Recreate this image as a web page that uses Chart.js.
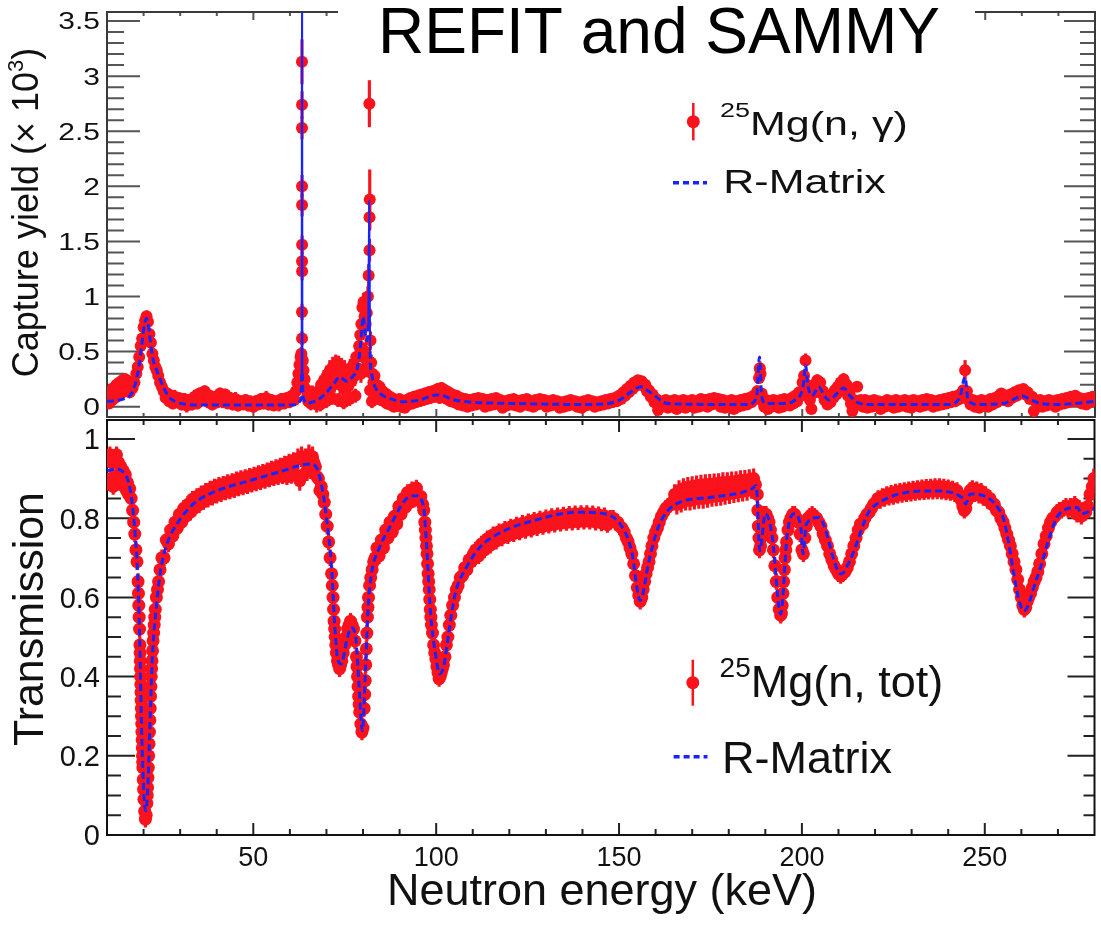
<!DOCTYPE html>
<html>
<head>
<meta charset="utf-8">
<title>25Mg capture yield and transmission</title>
<script src="https://cdn.jsdelivr.net/npm/chart.js@4.4.1/dist/chart.umd.min.js"></script>
<style>
  html, body { margin: 0; padding: 0; background: #ffffff; }
  #figure { position: relative; width: 1101px; height: 926px; overflow: hidden; background: #ffffff; }
  #figure canvas { position: absolute; left: 0; top: 0; }
</style>
</head>
<body>
<div id="figure">
  <canvas id="transCanvas" width="1101" height="926"></canvas>
  <canvas id="yieldCanvas" width="1101" height="926"></canvas>
</div>
<script>
// ---------- axis ticks ----------
const energyMajorTicks = [50, 100, 150, 200, 250];
const energyTickLabels = ['50', '100', '150', '200', '250'];
const energyMinorTicks = [20, 30, 40, 60, 70, 80, 90, 110, 120, 130, 140, 160, 170, 180, 190, 210, 220, 230, 240, 260, 270];
const yieldMajorTicks = [0, 0.5, 1, 1.5, 2, 2.5, 3, 3.5];
const yieldTickLabels = ['0', '0.5', '1', '1.5', '2', '2.5', '3', '3.5'];
const yieldMinorTicks = [0.1, 0.2, 0.3, 0.4, 0.6, 0.7, 0.8, 0.9, 1.1, 1.2, 1.3, 1.4, 1.6, 1.7, 1.8, 1.9,
                         2.1, 2.2, 2.3, 2.4, 2.6, 2.7, 2.8, 2.9, 3.1, 3.2, 3.3, 3.4];
const transMajorTicks = [0, 0.2, 0.4, 0.6, 0.8, 1];
const transTickLabels = ['0', '0.2', '0.4', '0.6', '0.8', '1'];
const transMinorTicks = [0.05, 0.1, 0.15, 0.25, 0.3, 0.35, 0.45, 0.5, 0.55, 0.65, 0.7, 0.75, 0.85, 0.9, 0.95];

// ---------- 25Mg(n, gamma) capture yield (x 10^3) ----------
const yieldEnergy = [
  10.2,10.6,11.0,11.4,11.8,12.2,12.6,13.0,13.4,13.8,
  14.2,14.6,15.0,15.4,15.8,16.2,16.6,17.0,17.5,18.0,
  18.4,18.8,19.2,19.6,20.0,20.4,20.8,21.2,21.6,22.0,
  22.4,22.8,23.2,23.6,24.0,24.5,25.0,25.5,26.0,26.5,
  27.0,27.5,28.0,28.5,29.0,29.7,30.4,31.1,31.8,32.5,
  33.2,33.9,34.6,35.3,36.0,36.7,37.4,38.1,38.8,39.5,
  40.2,40.9,41.6,42.3,43.0,43.7,44.4,45.1,45.8,46.5,
  47.2,47.9,48.6,49.3,50.0,50.7,51.4,52.1,52.8,53.5,
  54.2,54.9,55.6,56.3,57.0,57.7,58.4,59.1,59.8,60.5,
  61.2,61.6,62.0,62.3,62.6,62.9,63.1,63.28,63.29,63.30,
  63.30,63.31,63.31,63.32,63.32,63.29,63.30,63.5,63.7,64.0,
  64.3,64.7,65.0,65.3,65.7,66.1,66.5,66.9,67.3,67.7,
  68.1,68.5,68.9,69.3,69.7,70.1,70.5,70.9,71.3,71.7,
  72.1,72.5,72.9,73.3,73.7,74.1,74.5,74.9,75.3,75.7,
  76.1,76.5,76.9,77.3,77.7,78.1,78.5,68.3,69.9,71.5,
  73.1,74.7,76.3,77.9,78.9,79.2,79.5,79.8,80.1,80.4,
  80.7,81.0,81.3,81.5,81.75,81.75,81.8,81.7,82.0,82.2,
  82.5,82.8,83.1,83.4,79.4,80.0,80.6,81.2,81.9,82.4,
  83.0,83.7,84.1,84.5,84.9,85.3,85.7,86.1,86.5,86.9,
  87.4,87.9,88.4,88.9,89.4,89.9,90.4,90.9,91.4,91.9,
  92.4,92.9,93.4,93.9,94.4,94.9,95.4,95.9,96.4,96.9,
  97.4,97.9,98.4,98.9,99.4,99.9,100.4,100.9,101.4,101.9,
  102.4,102.9,103.4,103.9,104.4,104.9,105.5,106.1,106.7,107.3,
  107.9,108.5,109.1,109.7,110.3,110.9,111.5,112.1,112.7,113.3,
  113.9,114.5,115.1,115.7,116.3,116.9,117.5,118.1,118.7,119.3,
  119.9,120.5,121.1,121.7,122.3,122.9,123.5,124.1,124.7,125.3,
  125.9,126.5,127.1,127.7,128.3,128.9,129.5,130.1,130.7,131.3,
  131.9,132.5,133.1,133.7,134.3,134.9,135.5,136.1,136.7,137.3,
  137.9,138.5,139.1,139.7,140.3,140.9,141.5,142.1,142.7,143.3,
  143.9,144.5,145.1,145.7,146.3,146.9,147.5,148.1,148.7,149.3,
  149.9,150.5,151.1,151.6,152.1,152.6,153.1,153.6,154.1,154.6,
  155.1,155.6,156.1,156.6,157.1,157.6,158.1,158.6,159.1,159.6,
  160.1,160.6,161.1,161.6,162.1,162.7,163.3,163.9,164.5,165.1,
  165.7,166.3,166.9,167.5,168.1,168.7,169.3,169.9,170.5,171.1,
  171.7,172.3,172.9,173.5,174.1,174.7,175.3,175.9,176.5,177.1,
  177.7,178.3,178.9,179.5,180.1,180.7,181.3,181.9,182.5,183.1,
  183.7,184.3,184.9,185.5,186.1,186.7,187.2,187.7,188.2,188.4,
  188.6,188.9,189.2,189.6,190.1,190.6,191.1,191.6,192.1,192.6,
  193.1,193.6,194.1,194.6,195.1,195.6,196.1,196.6,197.1,197.6,
  198.1,198.6,199.1,199.6,200.1,200.5,200.9,201.3,201.7,202.1,
  202.5,202.9,203.3,203.7,204.1,204.5,204.9,205.3,205.7,206.1,
  206.5,206.9,207.3,207.7,208.1,208.5,208.9,209.3,209.7,210.1,
  210.5,210.9,211.3,211.7,212.1,212.5,212.9,213.3,213.7,214.1,
  214.5,215.0,215.5,216.0,216.6,217.2,217.8,218.4,219.0,219.6,
  220.2,220.8,221.4,222.0,222.6,223.2,223.8,224.4,225.0,225.6,
  226.2,226.8,227.4,228.0,228.6,229.2,229.8,230.4,231.0,231.6,
  232.2,232.8,233.4,234.0,234.6,235.2,235.8,236.4,237.0,237.6,
  238.2,238.8,239.4,240.0,240.6,241.2,241.8,242.4,243.0,243.5,
  244.0,244.5,245.0,245.5,246.0,246.6,247.2,247.8,248.4,249.0,
  249.6,250.2,250.8,251.4,252.0,252.6,253.2,253.8,254.4,255.0,
  255.6,256.2,256.8,257.4,258.0,258.6,259.2,259.8,260.4,261.0,
  261.6,262.2,262.8,263.3,263.8,264.4,265.0,265.6,266.2,266.8,
  267.4,268.0,268.6,269.2,269.8,270.4,271.0,271.6,272.2,272.8,
  273.4,274.0,274.6,275.2,275.8,276.4,277.0,277.6,278.2,278.8,
  279.4,280.0
];
const yieldValue = [
  0.10,0.03,0.14,0.06,0.17,0.08,0.20,0.10,0.22,0.12,
  0.24,0.14,0.25,0.16,0.23,0.13,0.21,0.17,0.22,0.30,
  0.36,0.45,0.55,0.62,0.72,0.78,0.82,0.77,0.66,0.58,
  0.48,0.42,0.36,0.33,0.28,0.22,0.18,0.14,0.08,0.12,
  0.05,0.10,0.03,0.09,0.04,0.08,0.02,0.07,0.01,0.06,
  0.02,0.09,0.03,0.12,0.06,0.14,0.05,0.10,0.02,0.09,
  0.04,0.12,0.05,0.11,0.03,0.08,0.02,0.07,0.01,0.05,
  0.02,0.06,0.01,0.04,0.00,0.05,0.02,0.07,0.03,0.08,
  0.02,0.06,0.01,0.05,0.02,0.07,0.03,0.08,0.04,0.10,
  0.06,0.14,0.22,0.30,0.38,0.45,0.48,3.13,2.53,2.74,
  2.00,1.83,1.32,1.47,1.23,0.86,0.62,0.42,0.33,0.25,
  0.16,0.09,0.05,0.10,0.03,0.12,0.05,0.10,0.02,0.14,
  0.08,0.20,0.10,0.24,0.13,0.28,0.16,0.33,0.18,0.36,
  0.22,0.38,0.25,0.37,0.20,0.35,0.18,0.33,0.16,0.30,
  0.20,0.34,0.24,0.38,0.28,0.45,0.35,0.02,0.05,0.08,
  0.06,0.04,0.07,0.10,0.55,0.65,0.75,0.90,0.95,0.82,
  0.75,0.85,1.00,1.19,1.42,1.72,1.88,2.75,0.60,0.40,
  0.30,0.22,0.28,0.15,0.30,0.45,0.50,0.35,0.15,0.05,
  0.08,0.20,0.10,0.18,0.06,0.14,0.05,0.12,0.03,0.10,
  0.02,0.08,0.00,0.06,0.01,0.07,0.00,0.05,-0.01,0.06,
  0.02,0.08,0.03,0.09,0.04,0.10,0.05,0.11,0.06,0.12,
  0.07,0.13,0.08,0.14,0.09,0.15,0.16,0.08,0.17,0.09,
  0.15,0.07,0.13,0.05,0.11,0.04,0.10,0.02,0.08,0.01,
  0.07,0.00,0.06,0.01,0.07,0.02,0.08,0.03,0.07,0.00,
  0.06,0.01,0.07,0.02,0.08,0.03,0.06,-0.01,0.05,0.01,
  0.06,0.02,0.07,0.01,0.05,0.00,0.06,0.02,0.07,0.01,
  0.05,0.00,0.06,0.02,0.07,0.03,0.06,0.00,0.05,0.01,
  0.06,0.02,0.05,-0.01,0.04,0.00,0.05,0.01,0.06,0.02,
  0.05,0.00,0.04,-0.01,0.05,0.01,0.06,0.02,0.05,0.00,
  0.04,0.01,0.05,0.02,0.06,0.03,0.07,0.04,0.08,0.05,
  0.10,0.07,0.13,0.10,0.16,0.13,0.19,0.16,0.22,0.19,
  0.24,0.21,0.23,0.19,0.20,0.14,0.15,0.09,0.11,0.04,
  0.07,-0.03,0.05,0.00,0.04,0.06,-0.01,0.05,0.00,0.06,
  -0.02,0.05,0.00,0.06,-0.01,0.05,0.01,0.06,-0.01,0.05,
  0.00,0.07,0.01,0.06,0.00,0.07,0.02,0.08,0.03,0.07,
  0.00,0.06,-0.01,0.05,0.00,0.06,-0.02,0.05,0.00,0.06,
  0.01,0.07,0.02,0.08,0.04,0.10,0.07,0.14,0.26,0.35,
  0.30,0.12,0.05,0.00,0.06,-0.02,0.05,0.00,0.06,0.01,
  0.05,-0.01,0.06,0.00,0.07,0.02,0.06,0.01,0.08,0.03,
  0.10,0.05,0.13,0.10,0.22,0.28,0.42,0.20,0.14,0.06,
  -0.02,0.12,0.20,0.15,0.24,0.18,0.22,0.12,0.14,0.06,
  0.10,0.02,0.08,0.04,0.10,0.08,0.15,0.11,0.18,0.14,
  0.22,0.16,0.25,0.15,0.20,0.10,0.12,0.03,-0.04,0.06,
  0.02,0.18,0.04,0.06,0.00,0.06,-0.01,0.05,0.00,0.06,
  0.01,0.05,-0.02,0.04,0.00,0.06,0.01,0.05,-0.01,0.06,
  0.00,0.05,0.01,0.06,0.00,0.05,-0.01,0.06,0.01,0.05,
  0.00,0.06,0.01,0.07,0.02,0.06,0.00,0.05,0.01,0.06,
  0.02,0.07,0.03,0.08,0.04,0.09,0.05,0.10,0.07,0.12,
  0.15,0.33,0.14,0.06,0.02,0.06,0.00,0.05,-0.01,0.06,
  0.01,0.05,0.00,0.07,0.02,0.08,0.04,0.10,0.12,0.06,
  0.10,0.05,0.11,0.08,0.13,0.10,0.15,0.12,0.16,0.11,
  0.13,0.07,0.09,-0.04,0.05,0.01,0.06,0.00,0.05,0.01,
  0.06,0.02,0.05,0.00,0.06,0.02,0.07,0.03,0.08,0.04,
  0.09,0.05,0.10,0.05,0.08,0.03,0.07,0.02,0.08,0.04,
  0.09,0.06
];
const yieldError = [
  0.04,0.04,0.04,0.04,0.04,0.04,0.05,0.05,0.05,0.05,
  0.05,0.05,0.05,0.05,0.05,0.05,0.05,0.05,0.04,0.04,
  0.05,0.05,0.05,0.05,0.05,0.05,0.05,0.05,0.05,0.05,
  0.05,0.05,0.05,0.05,0.05,0.04,0.04,0.05,0.05,0.05,
  0.05,0.04,0.05,0.06,0.05,0.04,0.05,0.05,0.06,0.05,
  0.05,0.06,0.05,0.05,0.04,0.05,0.06,0.05,0.05,0.04,
  0.05,0.05,0.06,0.05,0.04,0.05,0.05,0.06,0.05,0.05,
  0.04,0.05,0.05,0.06,0.05,0.05,0.04,0.05,0.05,0.06,
  0.05,0.05,0.04,0.05,0.06,0.05,0.05,0.04,0.05,0.05,
  0.05,0.05,0.05,0.05,0.06,0.06,0.06,0.20,0.10,0.12,
  0.10,0.10,0.08,0.08,0.08,0.07,0.06,0.06,0.06,0.05,
  0.05,0.05,0.05,0.06,0.06,0.07,0.07,0.07,0.07,0.08,
  0.08,0.08,0.08,0.09,0.09,0.09,0.09,0.09,0.09,0.09,
  0.09,0.09,0.09,0.09,0.09,0.09,0.09,0.09,0.09,0.09,
  0.09,0.09,0.09,0.09,0.09,0.09,0.09,0.06,0.06,0.06,
  0.06,0.06,0.06,0.06,0.07,0.07,0.08,0.08,0.08,0.08,
  0.08,0.08,0.09,0.10,0.10,0.12,0.27,0.21,0.08,0.07,
  0.07,0.06,0.06,0.06,0.08,0.08,0.08,0.08,0.07,0.06,
  0.06,0.05,0.05,0.05,0.05,0.05,0.05,0.05,0.05,0.05,
  0.05,0.05,0.04,0.05,0.05,0.04,0.05,0.05,0.04,0.05,
  0.05,0.04,0.05,0.05,0.04,0.05,0.05,0.04,0.05,0.05,
  0.04,0.05,0.05,0.04,0.05,0.05,0.05,0.05,0.05,0.05,
  0.05,0.04,0.05,0.04,0.04,0.04,0.04,0.04,0.04,0.04,
  0.04,0.04,0.04,0.04,0.04,0.04,0.04,0.04,0.04,0.04,
  0.04,0.04,0.04,0.04,0.04,0.04,0.04,0.04,0.04,0.04,
  0.04,0.04,0.04,0.04,0.04,0.04,0.04,0.04,0.04,0.04,
  0.04,0.04,0.04,0.04,0.04,0.04,0.04,0.04,0.04,0.04,
  0.04,0.04,0.04,0.04,0.04,0.04,0.04,0.04,0.04,0.04,
  0.04,0.04,0.04,0.04,0.04,0.04,0.04,0.04,0.04,0.04,
  0.04,0.04,0.04,0.04,0.04,0.04,0.04,0.04,0.04,0.04,
  0.04,0.04,0.04,0.04,0.04,0.04,0.04,0.04,0.04,0.04,
  0.04,0.04,0.04,0.04,0.04,0.04,0.04,0.04,0.04,0.04,
  0.04,0.04,0.04,0.04,0.04,0.04,0.04,0.04,0.04,0.04,
  0.04,0.04,0.04,0.04,0.04,0.04,0.04,0.04,0.04,0.04,
  0.04,0.04,0.04,0.04,0.04,0.04,0.04,0.04,0.04,0.04,
  0.04,0.04,0.04,0.04,0.04,0.04,0.04,0.04,0.04,0.04,
  0.04,0.04,0.04,0.04,0.04,0.04,0.04,0.05,0.05,0.06,
  0.05,0.04,0.04,0.04,0.04,0.04,0.04,0.04,0.04,0.04,
  0.04,0.04,0.04,0.04,0.04,0.04,0.04,0.04,0.04,0.04,
  0.04,0.04,0.04,0.04,0.04,0.05,0.06,0.05,0.04,0.04,
  0.04,0.04,0.04,0.04,0.05,0.04,0.04,0.04,0.04,0.04,
  0.04,0.04,0.04,0.04,0.04,0.04,0.04,0.04,0.04,0.04,
  0.04,0.04,0.05,0.04,0.04,0.04,0.04,0.04,0.04,0.04,
  0.04,0.04,0.04,0.04,0.04,0.04,0.04,0.04,0.04,0.04,
  0.04,0.04,0.04,0.04,0.04,0.04,0.04,0.04,0.04,0.04,
  0.04,0.04,0.04,0.04,0.04,0.04,0.04,0.04,0.04,0.04,
  0.04,0.04,0.04,0.04,0.04,0.04,0.04,0.04,0.04,0.04,
  0.04,0.04,0.04,0.04,0.04,0.04,0.04,0.04,0.04,0.04,
  0.04,0.09,0.04,0.04,0.04,0.04,0.04,0.04,0.04,0.04,
  0.04,0.04,0.04,0.04,0.04,0.04,0.04,0.04,0.04,0.04,
  0.04,0.04,0.04,0.04,0.04,0.04,0.04,0.04,0.04,0.04,
  0.04,0.04,0.04,0.04,0.04,0.04,0.04,0.04,0.04,0.04,
  0.04,0.04,0.04,0.04,0.04,0.04,0.04,0.04,0.04,0.04,
  0.04,0.04,0.04,0.04,0.04,0.04,0.04,0.04,0.04,0.04,
  0.04,0.04
];
// R-Matrix description of the capture yield
const yieldFitEnergy = [
  10,11,12,13,14,15,16,17,18,18.8,
  19.5,20.2,20.8,21.4,22,22.8,23.6,24.5,25.5,26.5,
  27.5,29,31,35,45,55,60,62,62.8,63.2,
  63.3,63.4,63.8,64.5,66,68,70,72,73.6,75.5,
  77,78.2,78.8,79.4,80.0,80.5,81.0,81.4,81.65,81.9,
  82.3,83,84,85.5,87.3,90.8,95.4,100,102,104,
  107,110,120,140,146,150,153,155.9,158,160.4,
  162,165,185,187.5,188.3,188.9,190,195,198,200.3,
  200.9,201.5,202.7,204.5,206,207.3,209.5,211.3,213,215,
  218,240,243,244.5,245.3,248,255,258,260,262,
  265,270,275,280
];
const yieldFitValue = [
  0.05,0.05,0.055,0.06,0.065,0.075,0.09,0.14,0.24,0.38,
  0.56,0.74,0.80,0.72,0.55,0.40,0.33,0.25,0.17,0.11,
  0.07,0.04,0.025,0.015,0.015,0.015,0.015,0.02,0.05,0.3,
  4.5,0.3,0.06,0.03,0.04,0.07,0.13,0.21,0.27,0.23,
  0.27,0.33,0.42,0.6,0.82,0.68,0.6,0.75,1.87,0.5,
  0.3,0.2,0.14,0.1,0.076,0.045,0.06,0.106,0.1,0.07,
  0.05,0.04,0.03,0.02,0.025,0.06,0.13,0.18,0.14,0.08,
  0.04,0.025,0.02,0.08,0.45,0.1,0.03,0.03,0.06,0.2,
  0.38,0.2,0.1,0.18,0.1,0.06,0.12,0.17,0.1,0.04,
  0.02,0.02,0.08,0.27,0.06,0.02,0.03,0.07,0.1,0.07,
  0.03,0.02,0.03,0.05
];

// ---------- 25Mg(n, tot) transmission ----------
const transEnergy = [
  10.2,10.5,10.8,11.1,11.4,11.7,12.0,12.3,12.6,12.9,
  13.2,13.5,13.8,14.1,14.4,14.7,15.0,15.3,15.6,15.9,
  16.2,16.6,17.0,17.3,17.6,17.9,18.2,18.5,18.7,18.9,
  19.1,19.3,19.5,19.7,19.9,20.1,20.3,20.5,20.7,20.9,
  21.1,21.3,21.5,21.7,21.9,22.1,22.3,22.6,22.9,23.2,
  23.5,23.8,24.1,24.5,25.0,25.6,26.2,26.8,27.4,28.0,
  28.6,29.2,29.8,30.4,31.0,31.6,32.2,32.8,33.4,34.0,
  34.6,35.2,35.8,36.4,37.0,37.6,38.2,38.8,39.4,40.0,
  40.6,41.2,41.8,42.4,43.0,43.6,44.2,44.8,45.4,46.0,
  46.6,47.2,47.8,48.4,49.0,49.6,50.2,50.8,51.4,52.0,
  52.6,53.2,53.8,54.4,55.0,55.6,56.2,56.8,57.4,58.0,
  58.6,59.2,59.8,60.4,61.0,61.6,62.2,62.7,63.2,63.7,
  64.2,64.7,65.2,65.7,66.2,66.6,67.0,67.4,67.8,68.2,
  68.6,69.0,69.4,69.8,70.2,70.6,71.0,71.4,71.8,72.1,
  72.4,72.7,73.0,73.3,73.6,73.9,74.2,74.6,75.0,75.4,
  75.8,76.2,76.6,77.0,77.4,77.8,78.2,78.5,78.8,79.1,
  79.4,79.7,80.0,80.3,80.6,80.9,81.2,81.5,81.8,82.1,
  82.5,82.9,83.3,83.8,84.4,85.0,85.6,86.2,86.8,87.4,
  88.0,88.6,89.2,89.8,90.4,91.0,91.6,92.2,92.8,93.4,
  94.0,94.6,95.2,95.8,96.3,96.6,96.9,97.2,97.5,97.8,
  98.1,98.4,98.7,99.0,99.3,99.6,99.9,100.2,100.5,100.8,
  101.1,101.4,101.7,102.0,102.4,102.8,103.2,103.6,104.0,104.5,
  105.0,105.5,106.0,106.6,107.2,107.8,108.4,109.0,109.6,110.2,
  110.8,111.6,112.4,113.2,114.0,114.8,115.6,116.4,117.2,118.0,
  118.8,119.6,120.4,121.2,122.0,122.8,123.6,124.4,125.2,126.0,
  126.8,127.6,128.4,129.2,130.0,130.8,131.6,132.4,133.2,134.0,
  134.8,135.6,136.4,137.2,138.0,138.8,139.6,140.4,141.2,142.0,
  142.8,143.6,144.4,145.2,146.0,146.8,147.6,148.4,149.0,149.6,
  150.2,150.8,151.4,152.0,152.5,153.0,153.5,154.0,154.5,155.0,
  155.4,155.8,156.2,156.6,157.0,157.4,157.8,158.2,158.6,159.0,
  159.5,160.0,160.5,161.0,161.6,162.2,162.8,163.4,164.0,164.6,
  165.2,165.8,166.4,167.0,167.6,168.2,168.8,169.4,170.0,170.6,
  171.2,171.8,172.4,173.0,173.6,174.2,174.8,175.4,176.0,176.6,
  177.2,177.8,178.4,179.0,179.6,180.2,180.8,181.4,182.0,182.6,
  183.2,183.8,184.4,185.0,185.6,186.2,186.8,187.3,187.8,188.1,
  188.4,188.7,189.0,189.4,189.8,190.2,190.6,191.0,191.4,191.8,
  192.2,192.6,193.0,193.4,193.8,194.2,194.6,195.0,195.4,195.8,
  196.2,196.6,197.0,197.5,198.0,198.5,199.0,199.5,200.0,200.4,
  200.8,201.2,201.7,202.2,202.8,203.4,204.0,204.6,205.2,205.8,
  206.4,207.0,207.6,208.2,208.8,209.4,210.0,210.6,211.2,211.8,
  212.4,213.0,213.6,214.2,214.8,215.4,216.0,216.6,217.2,217.8,
  218.4,219.0,219.6,220.2,220.8,221.4,222.0,222.6,223.2,223.8,
  224.4,225.0,225.6,226.2,226.8,227.4,228.0,228.6,229.2,229.8,
  230.4,231.0,231.6,232.2,232.8,233.4,234.0,234.6,235.2,235.8,
  236.4,237.0,237.6,238.2,238.8,239.4,240.0,240.6,241.2,241.8,
  242.4,243.0,243.6,244.0,244.4,244.8,245.2,245.6,246.0,246.6,
  247.2,247.8,248.4,249.0,249.6,250.2,250.8,251.4,252.0,252.6,
  253.2,253.8,254.4,255.0,255.5,256.0,256.5,257.0,257.5,258.0,
  258.5,259.0,259.5,260.0,260.4,260.8,261.2,261.6,262.0,262.5,
  263.0,263.5,264.0,264.5,265.0,265.6,266.2,266.8,267.4,268.0,
  268.6,269.2,269.8,270.4,271.0,271.6,272.2,272.8,273.4,274.0,
  274.6,275.2,275.8,276.4,277.0,277.6,278.2,278.8,279.4,279.8,
  // extra samples on the steep flanks of the resonance dips
  18.6,18.8,19.0,19.05,19.15,19.2,19.25,19.35,19.4,19.45,
  19.55,19.6,19.65,19.75,19.8,20.0,21.0,21.2,21.4,21.6,
  21.8,22.0,22.2,22.45,22.75,23.05,71.6,71.95,72.25,72.55,
  78.35,78.65,78.95,80.45,80.75,81.05,81.35,97.05,97.35,97.65,
  97.95,98.25,98.55,187.95,188.25,188.85,194.4,194.8,195.2,195.6
];
const transValue = [
  0.95,0.89,0.96,0.90,0.94,0.88,0.95,0.90,0.96,0.91,
  0.94,0.89,0.93,0.90,0.92,0.88,0.91,0.87,0.89,0.86,
  0.875,0.85,0.82,0.79,0.76,0.72,0.69,0.64,0.58,0.52,
  0.44,0.36,0.28,0.20,0.14,0.09,0.06,0.04,0.05,0.08,
  0.12,0.17,0.23,0.29,0.35,0.40,0.44,0.49,0.53,0.57,
  0.60,0.62,0.64,0.67,0.70,0.70,0.745,0.735,0.77,0.755,
  0.79,0.775,0.81,0.79,0.825,0.805,0.835,0.815,0.848,0.826,
  0.855,0.834,0.862,0.842,0.868,0.848,0.874,0.853,0.879,0.858,
  0.883,0.862,0.886,0.866,0.89,0.869,0.893,0.872,0.897,0.876,
  0.90,0.879,0.903,0.882,0.906,0.886,0.909,0.889,0.913,0.892,
  0.916,0.895,0.92,0.899,0.924,0.902,0.928,0.905,0.932,0.907,
  0.937,0.905,0.942,0.908,0.946,0.91,0.95,0.895,0.955,0.91,
  0.95,0.92,0.96,0.925,0.955,0.94,0.93,0.905,0.90,0.87,
  0.88,0.86,0.84,0.81,0.78,0.74,0.70,0.66,0.60,0.54,
  0.50,0.46,0.44,0.43,0.42,0.43,0.44,0.46,0.48,0.50,
  0.52,0.53,0.54,0.53,0.52,0.49,0.45,0.40,0.35,0.31,
  0.28,0.26,0.27,0.32,0.39,0.47,0.55,0.60,0.63,0.65,
  0.67,0.69,0.70,0.725,0.705,0.745,0.725,0.77,0.75,0.79,
  0.765,0.805,0.785,0.83,0.81,0.85,0.828,0.865,0.84,0.872,
  0.848,0.876,0.846,0.855,0.835,0.82,0.79,0.75,0.71,0.66,
  0.62,0.57,0.53,0.51,0.48,0.46,0.445,0.425,0.41,0.395,
  0.40,0.41,0.42,0.43,0.45,0.48,0.50,0.53,0.555,0.58,
  0.60,0.62,0.63,0.65,0.655,0.675,0.67,0.695,0.69,0.71,
  0.72,0.705,0.735,0.72,0.748,0.732,0.758,0.742,0.766,0.75,
  0.772,0.756,0.778,0.761,0.783,0.765,0.787,0.769,0.791,0.772,
  0.795,0.776,0.798,0.779,0.801,0.782,0.804,0.785,0.806,0.787,
  0.808,0.789,0.81,0.79,0.811,0.791,0.812,0.792,0.812,0.792,
  0.811,0.79,0.809,0.788,0.806,0.784,0.80,0.80,0.79,0.79,
  0.78,0.775,0.765,0.75,0.74,0.725,0.71,0.685,0.655,0.625,
  0.605,0.59,0.60,0.62,0.64,0.66,0.675,0.69,0.71,0.73,
  0.75,0.765,0.775,0.79,0.805,0.815,0.825,0.83,0.835,0.84,
  0.86,0.835,0.87,0.84,0.875,0.845,0.878,0.845,0.88,0.848,
  0.882,0.85,0.884,0.85,0.885,0.852,0.886,0.855,0.887,0.856,
  0.888,0.857,0.89,0.86,0.89,0.862,0.892,0.864,0.893,0.866,
  0.895,0.868,0.896,0.87,0.898,0.875,0.90,0.885,0.86,0.78,
  0.72,0.73,0.77,0.80,0.81,0.81,0.80,0.79,0.77,0.75,
  0.72,0.68,0.64,0.60,0.57,0.555,0.58,0.64,0.70,0.74,
  0.77,0.79,0.80,0.81,0.81,0.80,0.79,0.76,0.72,0.71,
  0.75,0.78,0.80,0.805,0.81,0.805,0.80,0.79,0.78,0.76,
  0.745,0.73,0.71,0.695,0.68,0.67,0.66,0.655,0.66,0.665,
  0.675,0.69,0.71,0.73,0.75,0.77,0.785,0.785,0.80,0.81,
  0.815,0.825,0.835,0.84,0.85,0.845,0.855,0.85,0.86,0.853,
  0.863,0.855,0.866,0.858,0.868,0.86,0.87,0.862,0.872,0.863,
  0.874,0.865,0.875,0.866,0.877,0.867,0.878,0.868,0.879,0.868,
  0.88,0.869,0.88,0.868,0.879,0.866,0.877,0.865,0.874,0.862,
  0.87,0.858,0.845,0.83,0.82,0.825,0.845,0.86,0.87,0.875,
  0.862,0.872,0.858,0.868,0.852,0.86,0.845,0.85,0.835,0.835,
  0.82,0.815,0.80,0.79,0.775,0.76,0.745,0.73,0.71,0.69,
  0.67,0.645,0.62,0.60,0.58,0.57,0.575,0.59,0.60,0.61,
  0.625,0.64,0.65,0.665,0.685,0.71,0.735,0.755,0.775,0.79,
  0.80,0.805,0.815,0.82,0.82,0.825,0.83,0.822,0.83,0.82,
  0.835,0.81,0.825,0.805,0.82,0.815,0.83,0.86,0.88,0.90,
  // steep flanks
  0.61,0.55,0.48,0.46,0.42,0.40,0.38,0.34,0.32,0.30,
  0.26,0.24,0.22,0.185,0.17,0.115,0.10,0.145,0.20,0.26,
  0.32,0.375,0.42,0.465,0.51,0.55,0.63,0.57,0.52,0.48,
  0.425,0.375,0.33,0.355,0.43,0.51,0.575,0.77,0.73,0.685,
  0.64,0.595,0.55,0.82,0.75,0.75,0.56,0.61,0.67,0.72
];
const transError = [
  0.02,0.02,0.02,0.02,0.02,0.02,0.02,0.02,0.02,0.02,
  0.02,0.02,0.02,0.02,0.02,0.02,0.02,0.02,0.02,0.02,
  0.02,0.02,0.02,0.02,0.02,0.02,0.02,0.02,0.02,0.02,
  0.02,0.02,0.02,0.02,0.02,0.02,0.02,0.02,0.02,0.02,
  0.02,0.02,0.02,0.02,0.02,0.02,0.02,0.02,0.02,0.02,
  0.02,0.02,0.02,0.02,0.02,0.02,0.02,0.02,0.02,0.02,
  0.02,0.02,0.02,0.02,0.02,0.02,0.02,0.02,0.02,0.02,
  0.02,0.02,0.02,0.02,0.02,0.02,0.02,0.02,0.02,0.02,
  0.02,0.02,0.02,0.02,0.02,0.02,0.02,0.02,0.02,0.02,
  0.02,0.02,0.02,0.02,0.02,0.02,0.02,0.02,0.02,0.02,
  0.02,0.02,0.02,0.02,0.02,0.02,0.02,0.02,0.02,0.02,
  0.02,0.02,0.02,0.02,0.02,0.02,0.025,0.025,0.025,0.025,
  0.025,0.025,0.025,0.025,0.025,0.025,0.025,0.025,0.02,0.02,
  0.02,0.02,0.02,0.02,0.02,0.02,0.02,0.02,0.02,0.02,
  0.02,0.02,0.02,0.02,0.02,0.02,0.02,0.02,0.02,0.02,
  0.02,0.02,0.02,0.02,0.02,0.02,0.02,0.02,0.02,0.02,
  0.02,0.02,0.02,0.02,0.02,0.02,0.02,0.02,0.02,0.02,
  0.02,0.02,0.02,0.02,0.02,0.02,0.02,0.02,0.02,0.02,
  0.02,0.02,0.02,0.02,0.02,0.02,0.02,0.02,0.02,0.02,
  0.02,0.02,0.02,0.02,0.02,0.02,0.02,0.02,0.02,0.02,
  0.02,0.02,0.02,0.02,0.02,0.02,0.02,0.02,0.02,0.02,
  0.02,0.02,0.02,0.02,0.02,0.02,0.02,0.02,0.02,0.02,
  0.02,0.02,0.02,0.02,0.02,0.02,0.02,0.02,0.02,0.02,
  0.02,0.02,0.02,0.02,0.02,0.02,0.02,0.02,0.02,0.02,
  0.02,0.02,0.02,0.02,0.02,0.02,0.02,0.02,0.02,0.02,
  0.02,0.02,0.02,0.02,0.02,0.02,0.02,0.02,0.02,0.02,
  0.02,0.02,0.02,0.02,0.02,0.02,0.02,0.02,0.02,0.02,
  0.02,0.02,0.02,0.02,0.02,0.02,0.02,0.02,0.02,0.02,
  0.02,0.02,0.02,0.02,0.02,0.02,0.02,0.02,0.02,0.02,
  0.02,0.02,0.02,0.02,0.02,0.02,0.02,0.02,0.02,0.02,
  0.02,0.02,0.02,0.02,0.02,0.02,0.02,0.02,0.02,0.02,
  0.025,0.025,0.025,0.025,0.025,0.025,0.025,0.025,0.025,0.025,
  0.025,0.025,0.025,0.025,0.025,0.025,0.025,0.025,0.025,0.025,
  0.025,0.025,0.025,0.025,0.025,0.025,0.025,0.025,0.025,0.025,
  0.025,0.025,0.025,0.025,0.025,0.025,0.025,0.025,0.02,0.02,
  0.02,0.02,0.02,0.02,0.02,0.02,0.02,0.02,0.02,0.02,
  0.02,0.02,0.02,0.02,0.02,0.02,0.02,0.02,0.02,0.02,
  0.02,0.02,0.02,0.02,0.02,0.02,0.02,0.02,0.02,0.02,
  0.02,0.02,0.02,0.02,0.02,0.02,0.02,0.02,0.02,0.02,
  0.02,0.02,0.02,0.02,0.02,0.02,0.02,0.02,0.02,0.02,
  0.02,0.02,0.02,0.02,0.02,0.02,0.02,0.02,0.02,0.02,
  0.02,0.02,0.02,0.02,0.02,0.02,0.02,0.02,0.02,0.02,
  0.02,0.02,0.02,0.02,0.02,0.02,0.02,0.02,0.02,0.02,
  0.02,0.02,0.02,0.02,0.02,0.02,0.02,0.02,0.02,0.02,
  0.02,0.02,0.02,0.02,0.02,0.02,0.02,0.02,0.02,0.02,
  0.02,0.02,0.02,0.02,0.02,0.02,0.02,0.02,0.02,0.02,
  0.02,0.02,0.02,0.02,0.02,0.02,0.02,0.02,0.02,0.02,
  0.02,0.02,0.02,0.02,0.02,0.02,0.02,0.02,0.02,0.02,
  0.02,0.02,0.02,0.02,0.02,0.02,0.02,0.02,0.02,0.02,
  0.02,0.02,0.02,0.02,0.02,0.02,0.02,0.02,0.02,0.02,
  0.02,0.02,0.02,0.02,0.02,0.02,0.02,0.02,0.02,0.02,
  0.02,0.02,0.02,0.02,0.02,0.02,0.02,0.025,0.025,0.025,
  // steep flanks
  0.02,0.02,0.02,0.02,0.02,0.02,0.02,0.02,0.02,0.02,
  0.02,0.02,0.02,0.02,0.02,0.02,0.02,0.02,0.02,0.02,
  0.02,0.02,0.02,0.02,0.02,0.02,0.02,0.02,0.02,0.02,
  0.02,0.02,0.02,0.02,0.02,0.02,0.02,0.02,0.02,0.02,
  0.02,0.02,0.02,0.02,0.02,0.02,0.02,0.02,0.02,0.02
];
// R-Matrix description of the transmission
const transFitEnergy = [
  10,12.7,14.5,15.9,16.8,17.7,18.4,18.9,19.5,20.2,
  20.6,21.2,21.8,22.5,23.5,24.5,26.4,29.1,33.6,40,
  49.1,58.2,62.7,65.5,67.3,68.6,70,71.4,72.3,73.2,
  74.1,75.5,76.8,78,78.9,79.8,80.7,81.4,82.3,84.5,
  87.3,90,92.4,94.9,96.1,96.7,97.3,98.5,99.8,101.0,
  102.2,103.4,105.2,108.3,111.9,116.8,126.6,138.8,146.1,150.9,
  153.4,155.8,158.2,160.7,165.6,175.3,186.3,187.5,188.5,190.0,
  191.8,194.2,196.0,197.9,199.7,200.3,201.2,204.6,210.7,213.1,
  219.2,236.3,243.6,244.8,246.0,254.6,260.7,264.3,270.4,275.3,
  276.5,280
];
const transFitValue = [
  0.920,0.924,0.916,0.890,0.844,0.760,0.659,0.508,0.255,0.087,
  0.061,0.129,0.297,0.465,0.575,0.659,0.735,0.785,0.836,0.869,
  0.895,0.920,0.933,0.937,0.928,0.886,0.802,0.676,0.524,0.440,
  0.432,0.490,0.524,0.499,0.381,0.263,0.423,0.575,0.659,0.726,
  0.777,0.825,0.853,0.857,0.844,0.819,0.743,0.558,0.457,0.407,
  0.432,0.508,0.609,0.676,0.726,0.760,0.794,0.815,0.811,0.777,
  0.718,0.592,0.693,0.777,0.836,0.853,0.874,0.882,0.718,0.811,
  0.760,0.558,0.760,0.811,0.777,0.710,0.785,0.802,0.659,0.693,
  0.827,0.869,0.853,0.836,0.861,0.811,0.566,0.650,0.811,0.827,
  0.811,0.825
];

// ---------- styling ----------
const RED = 'rgb(250,18,28)';
const BLUE = 'rgb(24,36,255)';
const FONT = "'Liberation Sans', Arial, Helvetica, sans-serif";
const INK = '#111111';

const toPoints = (xs, ys) => xs.map((x, i) => ({ x: x, y: ys[i] }));
const toErrorBars = (xs, ys, es) => xs.map((x, i) => ({ x: x, y: [ys[i] - es[i], ys[i] + es[i]] }));

function panelDatasets(E, V, Er, fitE, fitV, steepPx, radius) {
  const steep = c => Math.abs(c.p1.y - c.p0.y) > steepPx;
  return [
    {
      type: 'line', label: 'R-Matrix', data: toPoints(fitE, fitV),
      borderColor: BLUE, borderWidth: 3, borderDash: [7, 4], pointRadius: 0,
      cubicInterpolationMode: 'monotone',
      segment: {
        borderDash: c => steep(c) ? [] : [7, 4],
        borderWidth: c => steep(c) ? 2 : 3
      },
      order: 1
    },
    {
      type: 'scatter', label: 'measured', data: toPoints(E, V),
      backgroundColor: RED, borderWidth: 0, pointRadius: radius, pointHoverRadius: radius, order: 2
    },
    {
      type: 'bar', label: 'uncertainty', data: toErrorBars(E, V, Er),
      backgroundColor: RED, borderWidth: 0, barThickness: 2.5, grouped: false, order: 3
    }
  ];
}

// text with optional superscript runs, rotation and vertical squeeze
function textRun(ctx, parts, x, y, o) {
  o = o || {};
  ctx.save();
  ctx.translate(x, y);
  if (o.rot) ctx.rotate(o.rot);
  if (o.sy) ctx.scale(1, o.sy);
  ctx.fillStyle = o.color || INK;
  ctx.textBaseline = 'alphabetic';
  ctx.textAlign = 'left';
  let total = 0;
  parts.forEach(p => { ctx.font = p.size + 'px ' + FONT; p.w = ctx.measureText(p.t).width; total += p.w; });
  let cx = o.align === 'center' ? -total / 2 : (o.align === 'right' ? -total : 0);
  parts.forEach(p => { ctx.font = p.size + 'px ' + FONT; ctx.fillText(p.t, cx, -(p.rise || 0)); cx += p.w; });
  ctx.restore();
}

function drawFrameAndTicks(chart, s) {
  const ctx = chart.ctx, a = chart.chartArea, xs = chart.scales.x, ys = chart.scales.y;
  ctx.save();
  ctx.lineWidth = 2;
  ctx.strokeStyle = s.tickColor;
  ctx.beginPath();
  const hTick = (v, l, r) => {
    const py = ys.getPixelForValue(v);
    ctx.moveTo(a.left, py); ctx.lineTo(a.left + l, py);
    ctx.moveTo(a.right, py); ctx.lineTo(a.right - r, py);
  };
  const vTick = (v, t, b) => {
    const px = xs.getPixelForValue(v);
    ctx.moveTo(px, a.top); ctx.lineTo(px, a.top + t);
    ctx.moveTo(px, a.bottom); ctx.lineTo(px, a.bottom - b);
  };
  s.yMajor.forEach(v => hTick(v, s.yMajorLen[0], s.yMajorLen[1]));
  s.yMinor.forEach(v => hTick(v, s.yMinorLen[0], s.yMinorLen[1]));
  energyMajorTicks.forEach(v => vTick(v, s.xMajorLen[0], s.xMajorLen[1]));
  energyMinorTicks.forEach(v => vTick(v, s.xMinorLen[0], s.xMinorLen[1]));
  ctx.stroke();
  ctx.lineWidth = s.frameWidth;
  ctx.strokeStyle = s.frameColor;
  ctx.strokeRect(a.left, a.top, a.right - a.left, a.bottom - a.top);
  ctx.restore();
}

function legendMarker(ctx, x, y, r, half) {
  ctx.save();
  ctx.fillStyle = RED;
  ctx.fillRect(x - 1.25, y - half, 2.5, 2 * half);
  ctx.beginPath(); ctx.arc(x, y, r, 0, Math.PI * 2); ctx.fill();
  ctx.restore();
}
function legendDash(ctx, x0, x1, y) {
  ctx.save();
  ctx.strokeStyle = BLUE; ctx.lineWidth = 3.5; ctx.setLineDash([6, 4]);
  ctx.beginPath(); ctx.moveTo(x0, y); ctx.lineTo(x1, y); ctx.stroke();
  ctx.restore();
}

// ---------- upper panel: capture yield ----------
const yieldPlugin = {
  id: 'yieldDecor',
  beforeDatasetsDraw(chart) {
    drawFrameAndTicks(chart, {
      tickColor: '#555555', frameColor: '#3a3a3a', frameWidth: 2,
      yMajor: yieldMajorTicks, yMinor: yieldMinorTicks,
      yMajorLen: [33, 31], yMinorLen: [17, 15], xMajorLen: [8, 8], xMinorLen: [4, 4]
    });
  },
  afterDraw(chart) {
    const ctx = chart.ctx, ys = chart.scales.y;
    yieldMajorTicks.forEach((v, i) => {
      textRun(ctx, [{ t: yieldTickLabels[i], size: 30 }], 100, ys.getPixelForValue(v) + 8.4, { align: 'right', sy: 0.78 });
    });
    textRun(ctx, [{ t: 'Capture yield (\u00d7 10', size: 36 }, { t: '3', size: 22, rise: 15 }, { t: ')', size: 36 }],
      37.5, 212.5, { align: 'center', rot: -Math.PI / 2 });
    // heading on a white plate
    ctx.save(); ctx.fillStyle = '#ffffff'; ctx.fillRect(338, 0, 637, 62); ctx.restore();
    textRun(ctx, [{ t: 'REFIT and SAMMY', size: 64 }], 659, 53, { align: 'center', color: '#000000' });
    // legend
    legendMarker(ctx, 693.3, 121.7, 6.5, 18.7);
    textRun(ctx, [{ t: '25', size: 27, rise: 24 }, { t: 'Mg(n, \u03b3)', size: 43 }], 720, 135, { sy: 0.76 });
    legendDash(ctx, 673, 707, 182.7);
    textRun(ctx, [{ t: 'R-Matrix', size: 43 }], 723.3, 193.3, { sy: 0.76 });
  }
};

// ---------- lower panel: transmission ----------
const transPlugin = {
  id: 'transDecor',
  beforeDatasetsDraw(chart) {
    drawFrameAndTicks(chart, {
      tickColor: '#222222', frameColor: '#111111', frameWidth: 2,
      yMajor: transMajorTicks, yMinor: transMinorTicks,
      yMajorLen: [28, 27], yMinorLen: [14, 11], xMajorLen: [12, 12], xMinorLen: [5, 6]
    });
  },
  afterDraw(chart) {
    const ctx = chart.ctx, xs = chart.scales.x, ys = chart.scales.y;
    transMajorTicks.forEach((v, i) => {
      textRun(ctx, [{ t: transTickLabels[i], size: 29 }], 100, ys.getPixelForValue(v) + 10.4, { align: 'right' });
    });
    energyMajorTicks.forEach((v, i) => {
      textRun(ctx, [{ t: energyTickLabels[i], size: 27 }], xs.getPixelForValue(v), 865.5, { align: 'center' });
    });
    textRun(ctx, [{ t: 'Transmission', size: 43 }], 42.5, 619, { align: 'center', rot: -Math.PI / 2 });
    textRun(ctx, [{ t: 'Neutron energy (keV)', size: 45 }], 602, 905, { align: 'center' });
    // legend
    legendMarker(ctx, 692.8, 682.7, 6.5, 23);
    textRun(ctx, [{ t: '25', size: 28, rise: 20 }, { t: 'Mg(n, tot)', size: 45 }], 719.6, 696.7);
    legendDash(ctx, 673.6, 707.5, 756.7);
    textRun(ctx, [{ t: 'R-Matrix', size: 45 }], 722, 772.7);
  }
};

function makePanel(canvasId, datasets, yMin, yMax, padding, plugin) {
  return new Chart(document.getElementById(canvasId), {
    type: 'scatter',
    data: { datasets: datasets },
    options: {
      responsive: false, animation: false, devicePixelRatio: 1, events: [],
      layout: { padding: padding },
      plugins: { legend: { display: false }, tooltip: { enabled: false }, title: { display: false } },
      scales: {
        x: { type: 'linear', min: 10, max: 280, offset: false, display: false },
        y: { type: 'linear', min: yMin, max: yMax, display: false }
      }
    },
    plugins: [plugin]
  });
}

makePanel('transCanvas',
  panelDatasets(transEnergy, transValue, transError, transFitEnergy, transFitValue, 110, 6.5),
  0, 1.048, { left: 107, right: 4, top: 420, bottom: 91 }, transPlugin);

makePanel('yieldCanvas',
  panelDatasets(yieldEnergy, yieldValue, yieldError, yieldFitEnergy, yieldFitValue, 110, 6),
  -0.0935, 3.582, { left: 107, right: 4, top: 12, bottom: 509 }, yieldPlugin);
</script>
</body>
</html>
